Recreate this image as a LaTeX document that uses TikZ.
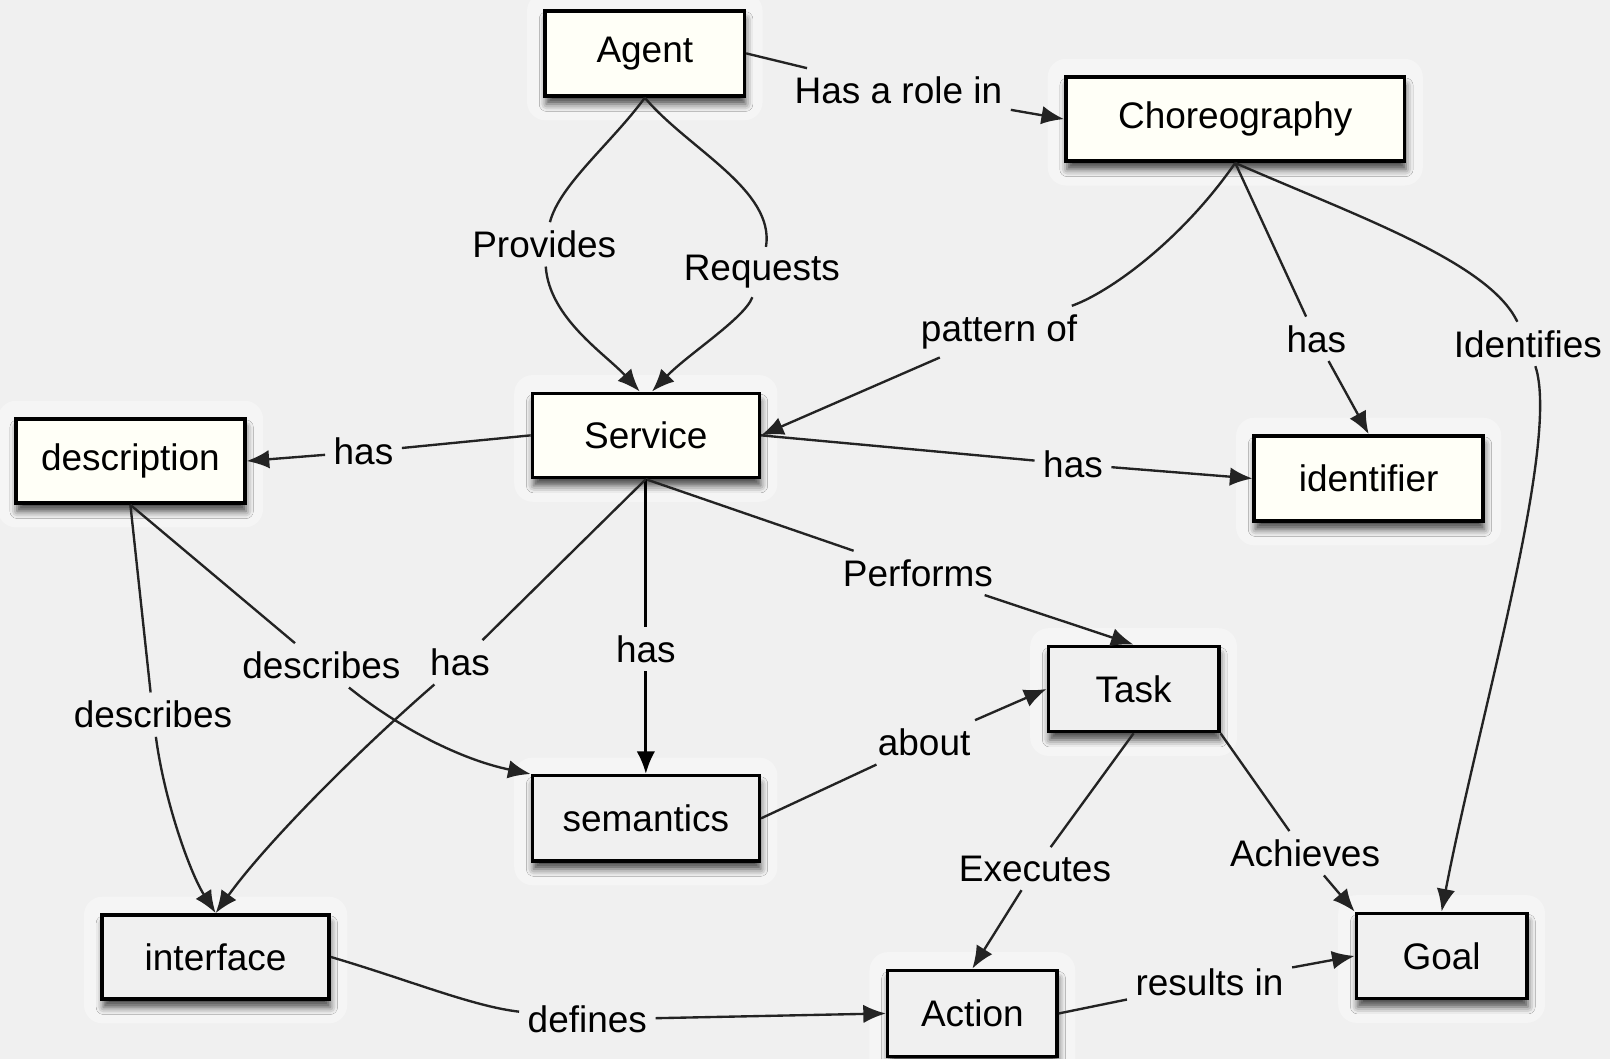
\documentclass[tikz,border=0pt]{standalone}
\usepackage{fontspec}
\setmainfont{Liberation Sans}
\usetikzlibrary{arrows.meta,shadows.blur,backgrounds}
\definecolor{bgc}{RGB}{240,240,240}
\definecolor{ivory}{RGB}{255,255,247}
\definecolor{linec}{RGB}{35,35,35}
\begin{document}
\begin{tikzpicture}[x=0.5pt,y=-0.5pt,
  box/.style={draw=black, line width=1.7pt, fill=ivory, inner sep=0pt,
    font=\fontsize{18}{21}\selectfont,
    blur shadow={shadow xshift=0.6pt, shadow yshift=-4pt, shadow blur radius=3.5pt, shadow opacity=70}},
  gbox/.style={box, fill=bgc},
  lab/.style={inner sep=4pt, font=\fontsize{18}{21}\selectfont},
  con/.style={draw=linec, line width=1.15pt},
  arr/.style={con, -{Latex[length=11pt,width=9pt]}},
]
\useasboundingbox (0,0) rectangle (1568,1031);

% concept boxes
\node[box, minimum width=97pt, minimum height=41.5pt] (agent) at (628,52) {Agent};
\node[box, minimum width=165pt, minimum height=41pt] (choreo) at (1203,116) {Choreography};
\node[box, minimum width=110.5pt, minimum height=41pt] (service) at (629,424) {Service};
\node[box, minimum width=111.5pt, minimum height=41pt] (desc) at (127,449) {description};
\node[box, minimum width=111.5pt, minimum height=41.5pt] (ident) at (1333,466) {identifier};
\node[gbox, minimum width=83pt, minimum height=41.5pt] (task) at (1104,671) {Task};
\node[gbox, minimum width=110.5pt, minimum height=41.5pt] (sem) at (629,797) {semantics};
\node[gbox, minimum width=110.5pt, minimum height=41pt] (iface) at (210,932) {interface};
\node[gbox, minimum width=82.5pt, minimum height=42pt] (action) at (947,987) {Action};
\node[gbox, minimum width=83pt, minimum height=41.5pt] (goal) at (1404,931) {Goal};

% link labels
\node[lab] (l1) at (875,88) {Has a role in};
\node[lab] (l2) at (530,238) {Provides};
\node[lab] (l3) at (742,265) {Requests};
\node[lab] (l4) at (973,323) {pattern of};
\node[lab] (l5) at (1282,330) {has};
\node[lab] (l6) at (1488,335) {Identifies};
\node[lab] (l7) at (354,440) {has};
\node[lab] (l8) at (1045,452) {has};
\node[lab] (l9) at (894,558) {Performs};
\node[lab] (l10) at (629,632) {has};
\node[lab] (l11) at (448,645) {has};
\node[lab] (l12) at (313,648) {describes};
\node[lab] (l13) at (149,696) {describes};
\node[lab] (l14) at (900,723) {about};
\node[lab] (l15) at (1008,846) {Executes};
\node[lab] (l16) at (1271,831) {Achieves};
\node[lab] (l17) at (572,993) {defines};
\node[lab] (l18) at (1178,957) {results in};

% connectors
\draw[con] (agent.east) -- (l1);
\draw[arr] (l1) -- (choreo.west);
\draw[con] (agent.south) .. controls (595,140) and (545,180) .. (l2);
\draw[arr] (l2) .. controls (535,310) and (590,345) .. ([xshift=-3pt]service.north);
\draw[con] (agent.south) .. controls (670,145) and (755,185) .. (l3);
\draw[arr] (l3) .. controls (725,310) and (670,345) .. ([xshift=3pt]service.north);
\draw[con] (choreo.south) .. controls (1150,235) and (1080,285) .. (l4);
\draw[arr] (l4) -- (service.east);
\draw[con] (choreo.south) -- (l5);
\draw[arr] (l5) -- (ident.north);
\draw[con] (choreo.south) .. controls (1320,210) and (1450,255) .. (l6);
\draw[arr] (l6) .. controls (1520,430) and (1440,700) .. (goal.north);
\draw[con] (service.west) -- (l7);
\draw[arr] (l7) -- (desc.east);
\draw[con] (service.east) -- (l8);
\draw[arr] (l8) -- (ident.west);
\draw[con] (service.south) -- (l9);
\draw[arr] (l9) -- (task.north);
\draw[con, line width=1.5pt, draw=black] (service.south) -- (l10);
\draw[arr, line width=1.5pt, draw=black] (l10) -- (sem.north);
\draw[con] (service.south) -- (l11);
\draw[arr] (l11) .. controls (350,730) and (260,820) .. (iface.north);
\draw[con] (desc.south) -- (l12);
\draw[arr] (l12) .. controls (390,710) and (450,740) .. (sem.north west);
\draw[con] (desc.south) -- (l13);
\draw[arr] (l13) .. controls (160,780) and (185,850) .. (iface.north);
\draw[con] (sem.east) -- (l14);
\draw[arr] (l14) -- (task.west);
\draw[con] (task.south) -- (l15);
\draw[arr] (l15) -- (action.north);
\draw[con] (task.south east) -- (l16);
\draw[arr] (l16) -- (goal.north west);
\draw[con] (iface.east) .. controls (400,955) and (460,980) .. (l17);
\draw[arr] (l17) -- (action.west);
\draw[con] (action.east) -- (l18);
\draw[arr] (l18) -- (goal.west);

% background and halos
\begin{scope}[on background layer]
\fill[bgc] (0,0) rectangle (1568,1031);
\foreach \n in {agent,choreo,service,desc,ident,task,sem,iface,action,goal}
  \fill[white, opacity=0.35, rounded corners=9pt]
    ([shift={(-8pt,8pt)}]\n.north west) rectangle ([shift={(8pt,-11pt)}]\n.south east);
\end{scope}
\end{tikzpicture}
\end{document}
